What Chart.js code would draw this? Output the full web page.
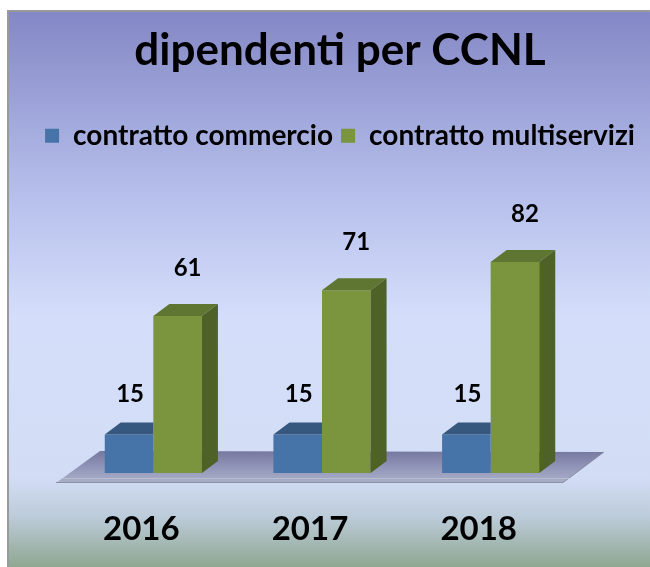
<!DOCTYPE html>
<html lang="it">
<head>
    <meta charset="UTF-8">
    <title>dipendenti per CCNL</title>
    <script src="https://cdn.jsdelivr.net/npm/chart.js"></script>
    <style>
        body { margin: 0; background: #fff; }
        #ccnlChart { display: block; }
    </style>
</head>
<body>
    <canvas id="ccnlChart" width="650" height="567"></canvas>

    <script>
        const years = ['2016', '2017', '2018'];
        const commercio = [15, 15, 15];
        const multiservizi = [61, 71, 82];
        const seriesNames = ['contratto commercio', 'contratto multiservizi'];

        // front / top / side colours of the 3d bars
        const blue = { front: '#4674a9', top: '#36587f', side: '#2f4d70' };
        const green = { front: '#7a953d', top: '#5f7632', side: '#4e6228' };
        const DX = 16, DY = 12; // bar depth

        function poly(c, pts, fill) {
            c.beginPath();
            c.moveTo(pts[0][0], pts[0][1]);
            for (let i = 1; i < pts.length; i++) c.lineTo(pts[i][0], pts[i][1]);
            c.closePath();
            c.fillStyle = fill;
            c.fill();
        }

        // gradient background with the grey frame on the left/top
        const backdrop = {
            id: 'backdrop',
            beforeDraw(chart) {
                const c = chart.ctx, w = chart.width, h = chart.height;
                c.save();
                c.fillStyle = '#fff';
                c.fillRect(0, 0, w, h);
                const g = c.createLinearGradient(0, 10, 0, h);
                g.addColorStop(0, '#8387c5');
                g.addColorStop(0.33, '#b6bfeb');
                g.addColorStop(0.55, '#d4defa');
                g.addColorStop(0.84, '#d2ddf5');
                g.addColorStop(0.91, '#bccbd9');
                g.addColorStop(1, '#8fa791');
                c.fillStyle = g;
                c.fillRect(7, 10, w - 7, h - 10);
                c.fillStyle = '#9a9a9a';
                c.fillRect(7, 10, 2, h - 10);
                c.fillRect(7, 10, w - 7, 2);
                c.restore();
            }
        };

        // floor under the bars
        const floor = {
            id: 'floor',
            beforeDatasetsDraw(chart) {
                const c = chart.ctx, x = chart.scales.x;
                const base = chart.scales.y.getPixelForValue(0);
                const l = x.left, r = x.right;
                c.save();
                const g = c.createLinearGradient(0, base - 22, 0, base + 10);
                g.addColorStop(0, '#76789f');
                g.addColorStop(0.5, '#9195b8');
                g.addColorStop(1, '#aab0c9');
                poly(c, [[l - 13, base + 10], [r - 12, base + 10], [r + 29, base - 21], [l + 31, base - 22]], g);
                c.strokeStyle = '#8d90a0';
                c.lineWidth = 1;
                c.beginPath();
                c.moveTo(l - 13, base + 9.5);
                c.lineTo(r - 12, base + 9.5);
                c.lineTo(r + 29, base - 21);
                c.stroke();
                c.strokeStyle = '#b9bdd0';
                c.beginPath();
                c.moveTo(l - 6, base + 5.5);
                c.lineTo(r - 6, base + 5.5);
                c.stroke();
                c.restore();
            }
        };

        // tops and sides of the bars + value labels
        const bars3d = {
            id: 'bars3d',
            afterDatasetsDraw(chart) {
                const c = chart.ctx;
                const base = chart.scales.y.getPixelForValue(0);
                c.save();
                chart.getDatasetMeta(0).data.forEach((bar) => {
                    const { x, y, width } = bar.getProps(['x', 'y', 'width'], true);
                    const L = x - width / 2, R = x + width / 2;
                    // right part is hidden behind the green bar
                    poly(c, [[L, y], [R, y], [R, y - DY], [L + DX, y - DY]], blue.top);
                });
                chart.getDatasetMeta(1).data.forEach((bar) => {
                    const { x, y, width } = bar.getProps(['x', 'y', 'width'], true);
                    const L = x - width / 2, R = x + width / 2;
                    poly(c, [[L, y], [R, y], [R + DX, y - DY], [L + DX, y - DY]], green.top);
                    poly(c, [[R, y], [R + DX, y - DY], [R + DX, base - DY], [R, base]], green.side);
                });

                c.fillStyle = '#000';
                c.font = 'bold 24px Lato';
                c.textAlign = 'center';
                c.textBaseline = 'middle';
                const lift = [40, 48], shift = [1, 10];
                chart.data.datasets.forEach((ds, i) => {
                    chart.getDatasetMeta(i).data.forEach((bar, j) => {
                        const { x, y } = bar.getProps(['x', 'y'], true);
                        c.fillText(String(ds.data[j]), x + shift[i], y - lift[i]);
                    });
                });
                c.restore();
            }
        };

        const ctx = document.getElementById('ccnlChart').getContext('2d');
        const ccnlChart = new Chart(ctx, {
            type: 'bar',
            data: {
                labels: years,
                datasets: [{
                    label: seriesNames[0],
                    data: commercio,
                    backgroundColor: blue.front,
                    borderWidth: 0
                }, {
                    label: seriesNames[1],
                    data: multiservizi,
                    backgroundColor: green.front,
                    borderWidth: 0
                }]
            },
            options: {
                responsive: false,
                animation: false,
                categoryPercentage: 0.576,
                barPercentage: 1.0,
                layout: {
                    padding: { left: 30, right: 0, top: 0, bottom: 17 }
                },
                plugins: {
                    title: {
                        display: true,
                        text: 'dipendenti per CCNL',
                        color: '#000',
                        font: { family: 'Lato', size: 44, weight: 'bold' },
                        padding: { top: 24, bottom: 37 }
                    },
                    legend: {
                        labels: {
                            boxWidth: 14,
                            boxHeight: 14,
                            padding: 8,
                            color: '#000',
                            font: { family: 'Lato', size: 28, weight: 'bold' }
                        }
                    },
                    tooltip: { enabled: false }
                },
                scales: {
                    x: {
                        grid: { display: false, drawTicks: false },
                        border: { display: false },
                        ticks: {
                            labelOffset: -12,
                            padding: 37,
                            color: '#000',
                            font: { family: 'Lato', size: 33, weight: 'bold' }
                        },
                        afterFit(scale) { scale.height = 77; }
                    },
                    y: {
                        position: 'right',
                        min: 0,
                        max: 121.7,
                        grid: { display: false },
                        border: { display: false },
                        ticks: { display: false },
                        afterFit(scale) { scale.width = 75; }
                    },
                    // empty spacer axis so the plot sits where the original has it
                    yLeft: {
                        type: 'linear',
                        position: 'left',
                        grid: { display: false },
                        border: { display: false },
                        ticks: { display: false },
                        afterFit(scale) { scale.width = 39; }
                    }
                }
            },
            plugins: [backdrop, floor, bars3d]
        });
    </script>
</body>
</html>
